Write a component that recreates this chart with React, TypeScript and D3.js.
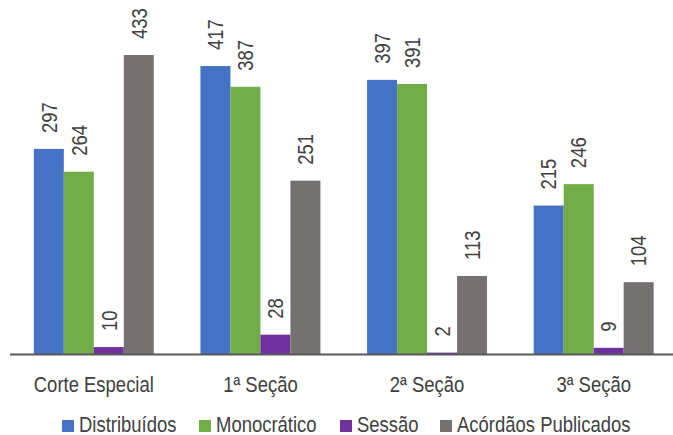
import React from "react";
import * as d3 from "d3";

const categories = ["Corte Especial", "1ª Seção", "2ª Seção", "3ª Seção"];
const seriesNames = ["Distribuídos", "Monocrático", "Sessão", "Acórdãos Publicados"];
const distribuidos = [297, 417, 397, 215];
const monocratico = [264, 387, 391, 246];
const sessao = [10, 28, 2, 9];
const acordaos = [433, 251, 113, 104];
const colors = ["#4472C4", "#70AD47", "#7030A0", "#767171"];

const W = 673;
const H = 435;
const FONT = "'Liberation Sans', Arial, sans-serif";
const FS = 22;
const SX = 0.84;

export default function App() {
  const series = [distribuidos, monocratico, sessao, acordaos];
  const x0 = d3.scaleBand<string>().domain(categories).range([10.5, 677]).paddingInner(0.28).paddingOuter(0.14);
  const x1 = d3.scaleBand<string>().domain(seriesNames).range([0, x0.bandwidth()]);
  const y = d3.scaleLinear().domain([0, 433]).range([354, 55]);

  const legendX = [62, 199, 340, 440];

  return (
    <svg width={W} height={H} style={{ position: "absolute", left: 0, top: 0, background: "#fff" }} fontFamily={FONT}>
      {categories.map((c, ci) => (
        <g key={c} transform={`translate(${x0(c)},0)`}>
          {seriesNames.map((s, si) => {
            const v = series[si][ci];
            const bx = x1(s)!;
            const top = y(v);
            const cx = bx + x1.bandwidth() / 2;
            return (
              <g key={s}>
                <rect x={bx} y={top} width={x1.bandwidth()} height={y(0) - top} fill={colors[si]} />
                <text
                  transform={`translate(${cx},${top - 16}) rotate(-90) scale(${SX},1)`}
                  dy="0.35em"
                  fontSize={FS}
                  fill="#404040"
                  textAnchor="start"
                >
                  {v}
                </text>
              </g>
            );
          })}
          <text
            transform={`translate(${x0.bandwidth() / 2},391.5) scale(${SX},1)`}
            textAnchor="middle"
            fontSize={FS}
            fill="#404040"
          >
            {c}
          </text>
        </g>
      ))}
      <line x1={10} x2={673} y1={354.5} y2={354.5} stroke="#595959" strokeWidth={2} />
      {seriesNames.map((s, si) => (
        <g key={s} transform={`translate(${legendX[si]},0)`}>
          <rect x={0} y={420} width={12} height={12} fill={colors[si]} />
          <text transform={`translate(17,432) scale(${SX},1)`} fontSize={FS} fill="#404040">
            {s}
          </text>
        </g>
      ))}
    </svg>
  );
}
